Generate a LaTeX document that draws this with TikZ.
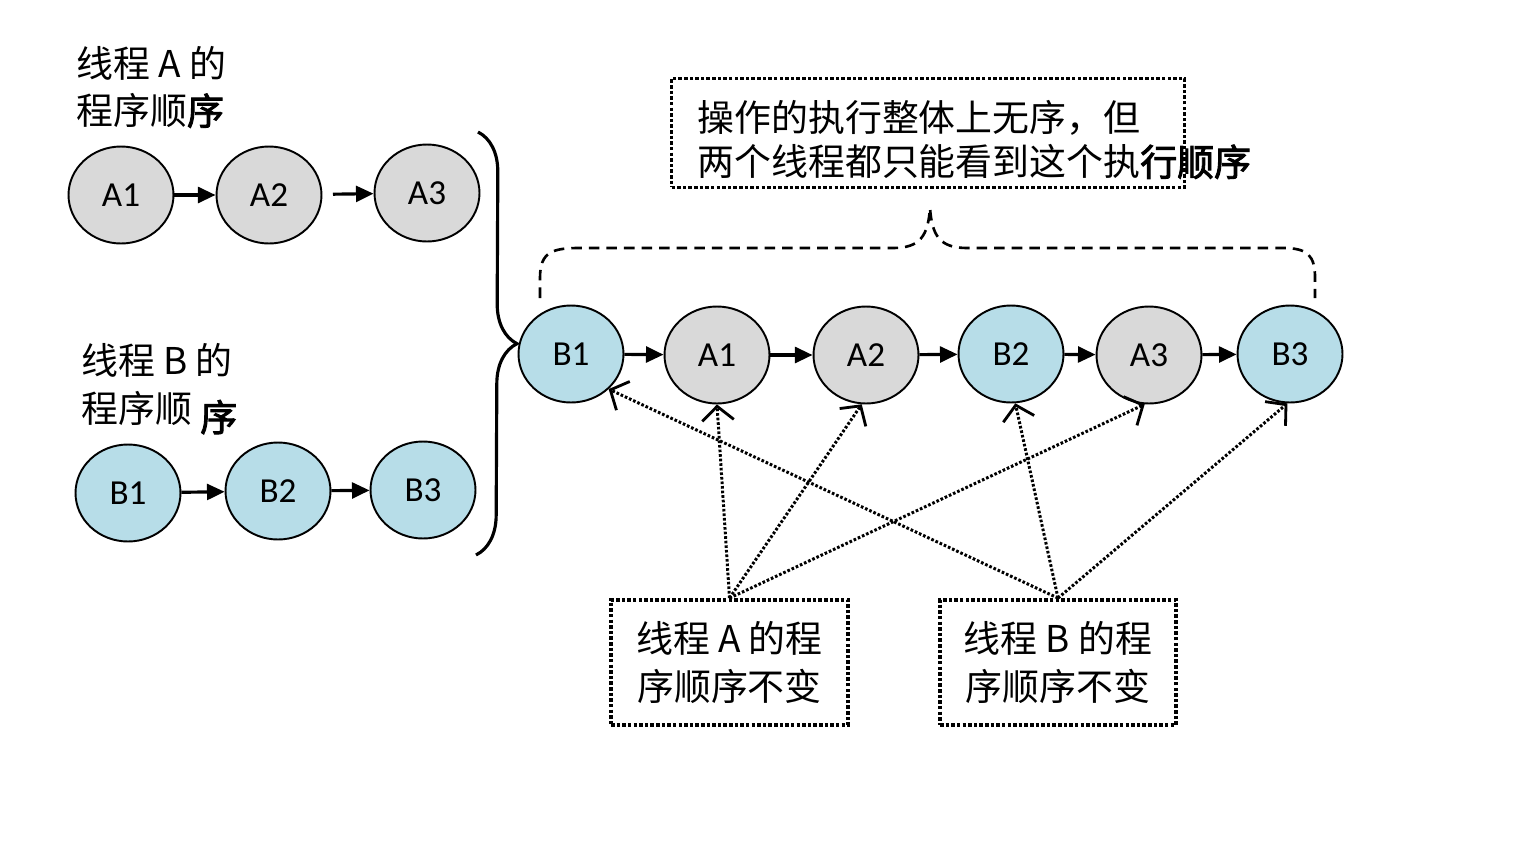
\documentclass[tikz,border=0pt]{standalone}
\usepackage{fontspec}
\setmainfont{Carlito}
\newfontfamily\cjk{Noto Sans CJK SC}
\newfontfamily\cjkb[FakeBold=2.5]{Noto Sans CJK SC}
\usetikzlibrary{arrows.meta,shapes.geometric,decorations.pathreplacing}
\definecolor{thrA}{RGB}{217,217,217}
\definecolor{thrB}{RGB}{183,221,232}
\tikzstyle{op} = [ellipse, draw, line width=1.1pt, minimum width=2.1cm, minimum height=1.94cm, inner sep=0pt, font=\fontsize{20}{24}\selectfont]
\tikzstyle{opa} = [op, fill=thrA]
\tikzstyle{opb} = [op, fill=thrB]
\tikzstyle{es} = [line width=1.8pt, -{Triangle[length=10pt,width=9pt]}]
\tikzstyle{ds} = [line width=1.7pt, dash pattern=on 1.5pt off 1.1pt, -{Straight Barb[length=8pt,width=18pt,line width=1.6pt]}]
\tikzstyle{dotbox} = [draw, line width=2.2pt, dash pattern=on 2pt off 1.2pt, inner sep=0pt]
\tikzstyle{lbl} = [font=\cjk\fontsize{21}{27}\selectfont, align=left, inner sep=0pt]

\begin{document}
\begin{tikzpicture}[x=0.02cm,y=-0.02cm]
			\fill[white] (0,0) rectangle (1524,862);
			% thread A alone
			\node[lbl,anchor=west] (labA) at (76,87) {线程 A 的\\程序顺{\cjkb 序}};
			\node[opa] (a1) at (121,195) {A1};
			\node[opa] (a2) at (269,195) {A2};
			\node[opa] (a3) at (427,193) {A3};
			\draw [es](a1) -- (a2);
			\draw [es,shorten <=6pt](a2) -- (a3);
			% thread B alone
			\node[lbl,anchor=west] (labB) at (81,389) {线程 B 的\\程序顺 \raisebox{-5pt}{\cjkb 序}};
			\node[opb] (b1) at (128,493) {B1};
			\node[opb] (b2) at (278,491) {B2};
			\node[opb] (b3) at (423,490) {B3};
			\draw [es](b1) -- (b2);
			\draw [es](b2) -- (b3);
			\draw[line width=1.8pt, decorate, decoration={brace, amplitude=0.8cm}] (478,132) -- (476,555);
			% interleaved run
			\node[opb] (rb1) at (571,354) {B1};
			\node[opa] (ra1) at (717,355) {A1};
			\node[opa] (ra2) at (866,355) {A2};
			\node[opb] (rb2) at (1011,354) {B2};
			\node[opa] (ra3) at (1149,355) {A3};
			\node[opb] (rb3) at (1290,354) {B3};
			\draw [es](rb1) -- (ra1);
			\draw [es](ra1) -- (ra2);
			\draw [es](ra2) -- (rb2);
			\draw [es](rb2) -- (ra3);
			\draw [es](ra3) -- (rb3);
			\draw[line width=1.5pt, dash pattern=on 6pt off 4pt] (540,298) -- (540,278) .. controls (540,252) and (552,248) .. (580,248) -- (893,248) .. controls (920,248) and (928,236) .. (930,208) .. controls (932,236) and (940,248) .. (967,248) -- (1283,248) .. controls (1308,248) and (1315,256) .. (1315,278) -- (1315,298);
			\node[dotbox, font=\cjk\fontsize{21}{25.5}\selectfont, align=left, inner xsep=0.52cm, text width=9.22cm, minimum height=2.18cm] (note) at (928,133) {\rule{0pt}{25pt}操作的执行整体上无序，但\\两个线程都只能看到这个执\rlap{\cjkb 行顺序}};
			% program order kept
			\node[dotbox, font=\cjk\fontsize{21}{27}\selectfont, align=center, minimum width=4.74cm, minimum height=2.5cm] (keepA) at (729.5,662.5) {线程 A 的程\\序顺序不变};
			\node[dotbox, font=\cjk\fontsize{21}{27}\selectfont, align=center, minimum width=4.72cm, minimum height=2.5cm] (keepB) at (1058,662.5) {线程 B 的程\\序顺序不变};
			\draw [ds](keepA.north) -- (ra1.south);
			\draw [ds](keepA.north) -- (ra2.-95);
			\draw [ds](keepA.north) -- (ra3.-95);
			\draw [ds](keepB.north) -- (rb1.-43);
			\draw [ds](keepB.north) -- (rb2.-85);
			\draw [ds](keepB.north) -- (rb3.-93);
		\end{tikzpicture}
\end{document}
